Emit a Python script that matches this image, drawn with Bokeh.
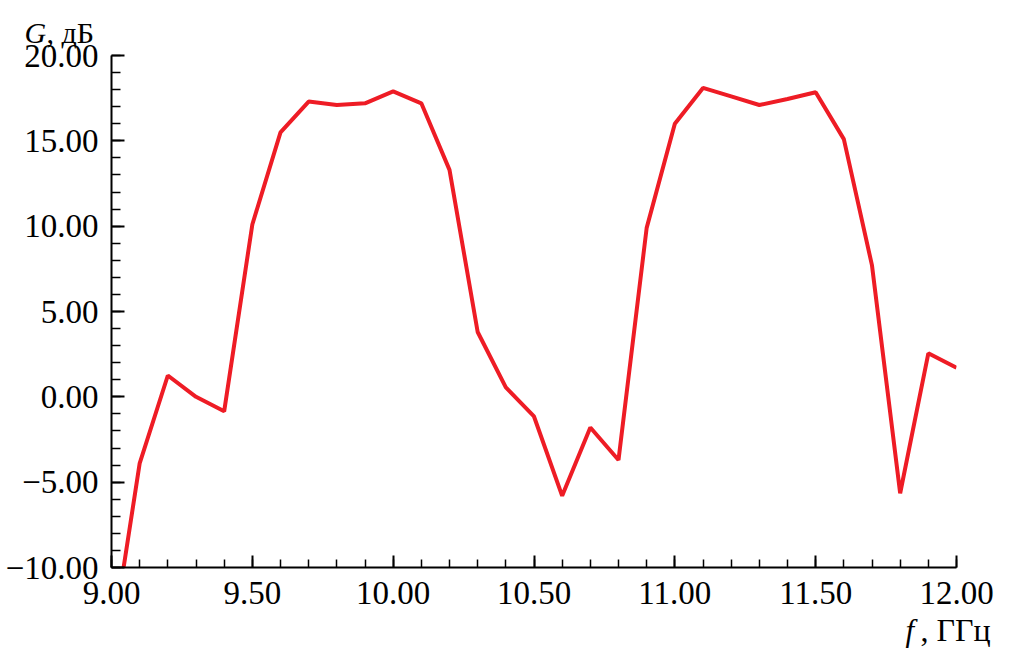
from bokeh.plotting import figure
from bokeh.models import Range1d, FixedTicker, Label
from bokeh.embed import file_html
from bokeh.resources import INLINE

# ---- data ----
freq_ghz = [9.0, 9.1, 9.2, 9.3, 9.4, 9.5, 9.6, 9.7, 9.8, 9.9,
            10.0, 10.1, 10.2, 10.3, 10.4, 10.5, 10.6, 10.7, 10.8, 10.9,
            11.0, 11.1, 11.2, 11.3, 11.4, 11.5, 11.6, 11.7, 11.8, 11.9, 12.0]
gain_db = [-14.6, -3.9, 1.25, 0.0, -0.85, 10.1, 15.5, 17.3, 17.1, 17.2,
           17.9, 17.2, 13.3, 3.8, 0.55, -1.15, -5.8, -1.8, -3.7, 9.9,
           16.0, 18.1, 17.6, 17.1, 17.45, 17.85, 15.1, 7.7, -5.65, 2.55, 1.7]

x_major = [9.0, 9.5, 10.0, 10.5, 11.0, 11.5, 12.0]
x_major_labels = ["9.00", "9.50", "10.00", "10.50", "11.00", "11.50", "12.00"]
x_minor = [9.0 + 0.1 * i for i in range(31)]
y_major = [-10, -5, 0, 5, 10, 15, 20]
y_major_labels = ["\u221210.00", "\u22125.00", "0.00", "5.00", "10.00", "15.00", "20.00"]
y_minor = list(range(-10, 21))

x_label_sym, x_label_unit = "f", ", ГГц"
y_label_sym, y_label_unit = "G", ", дБ"

FONT = "Liberation Serif"

p = figure(width=1014, height=657,
           x_range=Range1d(9, 12), y_range=Range1d(-10, 20),
           output_backend="svg", toolbar_location=None,
           min_border_left=111, min_border_right=58,
           min_border_top=55, min_border_bottom=90)
p.outline_line_color = None
p.xgrid.visible = False
p.ygrid.visible = False
p.background_fill_color = "white"
p.border_fill_color = "white"

p.line(freq_ghz, gain_db, line_color="#ee1c25", line_width=4)

# axes
xa = p.xaxis[0]
xa.ticker = FixedTicker(ticks=x_major, minor_ticks=x_minor)
xa.major_label_overrides = {t: l for t, l in zip(x_major, x_major_labels)}
ya = p.yaxis[0]
ya.ticker = FixedTicker(ticks=y_major, minor_ticks=y_minor)
ya.major_label_overrides = {t: l for t, l in zip(y_major, y_major_labels)}

for ax in (xa, ya):
    ax.axis_line_color = "black"
    ax.axis_line_width = 2
    ax.major_tick_line_color = "black"
    ax.major_tick_line_width = 2
    ax.minor_tick_line_color = "black"
    ax.minor_tick_line_width = 1.5
    ax.major_tick_out = 0
    ax.minor_tick_out = 0
    ax.major_label_text_font = FONT
    ax.major_label_text_font_size = "33px"
    ax.major_label_text_color = "black"

xa.major_tick_in = 12
xa.minor_tick_in = 8
ya.major_tick_in = 13
ya.minor_tick_in = 9
xa.major_label_standoff = 14
ya.major_label_standoff = 13

# axis titles (italic symbol + upright unit), placed in side panels so that
# they are not clipped; data units put them where the reference has them
lab_kw = dict(text_font=FONT, text_color="black", text_baseline="alphabetic",
              x_units="data", y_units="data")
p.add_layout(Label(x=8.691, y=21.35, text=y_label_sym, text_font_style="italic",
                   text_font_size="30px", **lab_kw), "above")
p.add_layout(Label(x=8.769, y=21.35, text=y_label_unit,
                   text_font_size="30px", **lab_kw), "right")
p.add_layout(Label(x=11.819, y=-13.69, text=x_label_sym, text_font_style="italic",
                   text_font_size="31px", **lab_kw), "right")
p.add_layout(Label(x=11.8722, y=-13.69, text=x_label_unit,
                   text_font_size="32px", **lab_kw), "below")

open("out.html", "w").write(file_html(p, INLINE))
